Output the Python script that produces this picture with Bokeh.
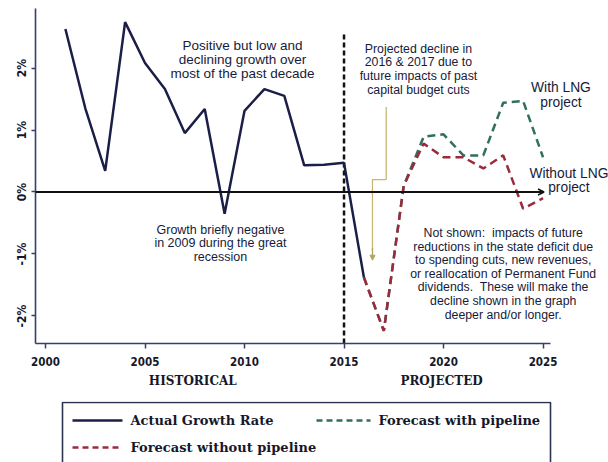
from bokeh.plotting import figure
from bokeh.layouts import column
from bokeh.models import (Range1d, FixedTicker, LinearAxis, Label,
                          Arrow, OpenHead, NormalHead, CustomJSTickFormatter)
from bokeh.core.properties import value
from bokeh.embed import file_html
from bokeh.resources import INLINE

# ---------------- data ----------------
years_actual = list(range(2001, 2017))
actual_growth = [2.63, 1.35, 0.34, 2.74, 2.08, 1.66, 0.95, 1.34, -0.35,
                 1.31, 1.66, 1.55, 0.43, 0.44, 0.47, -1.38]
years_forecast = list(range(2016, 2026))
forecast_with = [-1.38, -2.24, 0.10, 0.89, 0.93, 0.59, 0.59, 1.44, 1.47, 0.56]
forecast_without = [-1.38, -2.24, 0.10, 0.78, 0.56, 0.56, 0.38, 0.59, -0.27, -0.10]
x_ticks = [2000, 2005, 2010, 2015, 2020, 2025]
y_ticks = [-2, -1, 0, 1, 2]
y_tick_labels = ["-2%", "-1%", "0%", "1%", "2%"]
period_labels = ["HISTORICAL", "PROJECTED"]
period_centers = [2007.4, 2019.9]
divider_year = 2015
series_names = ["Actual Growth Rate", "Forecast with pipeline", "Forecast without pipeline"]

NAVY = "#1b1f48"
GREEN = "#2f6f5b"
RED = "#9c2a3d"
AXIS = "#34406e"
TXT = "#171b3a"
LBL = "#16182a"

X0, X1 = 1999.497, 2028.29
Y0, Y1 = -2.444, 3.089

p = figure(width=608, height=401, output_backend="svg", toolbar_location=None,
           x_range=Range1d(X0, X1), y_range=Range1d(Y0, Y1),
           min_border_left=35, min_border_right=0, min_border_top=0, min_border_bottom=58)
p.outline_line_color = None
p.grid.visible = False
p.background_fill_color = "white"
p.border_fill_color = "white"

# axes
xa = p.xaxis[0]
xa.ticker = FixedTicker(ticks=x_ticks)
xa.bounds = (X0, 2025.38)
xa.axis_line_color = AXIS
xa.axis_line_width = 1.6
xa.major_tick_line_color = AXIS
xa.major_tick_line_width = 1.5
xa.major_tick_in = 0
xa.major_tick_out = 5
xa.minor_tick_line_color = None
xa.major_label_standoff = 8
xa.major_label_text_font = "DejaVu Sans Condensed"
xa.major_label_text_font_style = "bold"
xa.major_label_text_font_size = "11.5px"
xa.major_label_text_color = LBL

ya = p.yaxis[0]
ya.ticker = FixedTicker(ticks=y_ticks)
ya.major_label_overrides = {t: l for t, l in zip(y_ticks, y_tick_labels)}
ya.bounds = (Y0, 2.96)
ya.axis_line_color = AXIS
ya.axis_line_width = 1.6
ya.major_tick_line_color = AXIS
ya.major_tick_line_width = 1.5
ya.major_tick_in = 0
ya.major_tick_out = 4
ya.minor_tick_line_color = None
ya.major_label_orientation = "vertical"
ya.major_label_standoff = 2
ya.major_label_text_font = "DejaVu Sans Condensed"
ya.major_label_text_font_style = "bold"
ya.major_label_text_font_size = "12px"
ya.major_label_text_color = LBL

hist_axis = LinearAxis(ticker=FixedTicker(ticks=period_centers),
                       formatter=CustomJSTickFormatter(
                           args=dict(lab=period_labels, split=divider_year),
                           code="return tick < split ? lab[0] : lab[1];"),
                       axis_line_color=None, major_tick_line_color=None,
                       minor_tick_line_color=None, major_tick_out=0, major_tick_in=0,
                       major_label_standoff=5,
                       major_label_text_font="DejaVu Serif",
                       major_label_text_font_style="bold",
                       major_label_text_font_size="12px",
                       major_label_text_color=LBL)
p.add_layout(hist_axis, "below")

# zero line with arrow
p.add_layout(Arrow(x_start=X0, y_start=0, x_end=2025.05, y_end=0, line_color="#111111",
                   line_width=2, end=OpenHead(size=6, line_color="#111111", line_width=1.5)))

# divider
p.segment(x0=[divider_year], y0=[Y0], x1=[divider_year], y1=[2.56],
          line_color="#111111", line_width=2.5, line_dash="5 3")

# series
r_with = p.line(years_forecast, forecast_with, line_color=GREEN, line_width=2.5,
                line_dash="8 5")
r_without = p.line(years_forecast, forecast_without, line_color=RED, line_width=2.5,
                   line_dash="8 5")
r_act = p.line(years_actual, actual_growth, line_color=NAVY, line_width=2.5)

# connector arrow from note to dip
con_x = [2017.12, 2017.12, 2016.43, 2016.43]
con_y = [1.37, 0.20, 0.20, -0.95]
p.line(con_x, con_y, line_color="#c8b873", line_width=1.3)
p.add_layout(Arrow(x_start=2016.43, y_start=-0.9, x_end=2016.43, y_end=-1.1,
                   line_color="#b0a65a", line_width=1.3,
                   end=NormalHead(size=5, fill_color="#b0a65a", line_color="#b0a65a")))

# annotations: text, x, y, font size (px), line height
NB = "\u00a0"
notes = [
    ("Positive but low and\ndeclining growth over\nmost of the past decade", 2009.9, 2.14, 13.5, 0.95),
    ("Projected decline in\n2016 & 2017 due to\nfuture impacts of past\ncapital budget cuts",
     2018.74, 1.98, 12.3, 0.98),
    ("With LNG\nproject", 2025.9, 1.57, 13.8, 1.0),
    ("Without LNG\nproject", 2026.3, 0.18, 13.8, 0.95),
    ("Growth briefly negative\nin 2009 during the great\nrecession", 2008.79, -0.83, 12.5, 0.98),
    ("Not shown:" + NB + " impacts of future\nreductions in the state deficit due\nto spending cuts, new revenues,\n"
     "or reallocation of Permanent Fund\ndividends." + NB + " These will make the\ndecline shown in the graph\n"
     "deeper and/or longer.", 2023.0, -1.32, 12.3, 0.97),
]
for txt, x, y, fs, lh in notes:
    p.add_layout(Label(x=x, y=y, text=txt, text_align="center", text_baseline="middle",
                       text_font="Liberation Sans", text_font_size=f"{fs}px",
                       text_color=TXT, text_line_height=lh))

# ---------------- legend strip (pixel coordinates) ----------------
lg = figure(width=608, height=61, output_backend="svg", toolbar_location=None,
            x_range=Range1d(35, 608), y_range=Range1d(0, 61),
            min_border_left=35, min_border_right=0, min_border_top=0, min_border_bottom=0)
lg.axis.visible = False
lg.grid.visible = False
lg.outline_line_color = None
lg.background_fill_color = "white"
lg.border_fill_color = "white"

# frame of the legend (bottom edge falls outside the picture, as in the reference)
lg.quad(left=[62], right=[550], bottom=[-6], top=[60], fill_color="white",
        line_color="#2b3350", line_width=1.6)
row_y = [42, 15]
lg.segment(x0=[72], y0=[row_y[0]], x1=[122], y1=[row_y[0]], line_color=NAVY, line_width=2.5)
lg.segment(x0=[72], y0=[row_y[1]], x1=[122], y1=[row_y[1]], line_color=RED, line_width=2.5,
           line_dash="6 4")
lg.segment(x0=[316], y0=[row_y[0]], x1=[370], y1=[row_y[0]], line_color=GREEN, line_width=2.5,
           line_dash="6 4")
lg.text(x=[130, 130, 378], y=[row_y[0], row_y[1], row_y[0]],
        text=[series_names[0], series_names[2], series_names[1]],
        text_font=value("DejaVu Serif"), text_font_style="bold", text_font_size="13px",
        text_color=LBL, text_baseline="middle", text_align="left")

layout = column(p, lg, spacing=0)
open("out.html", "w").write(file_html(layout, INLINE))
